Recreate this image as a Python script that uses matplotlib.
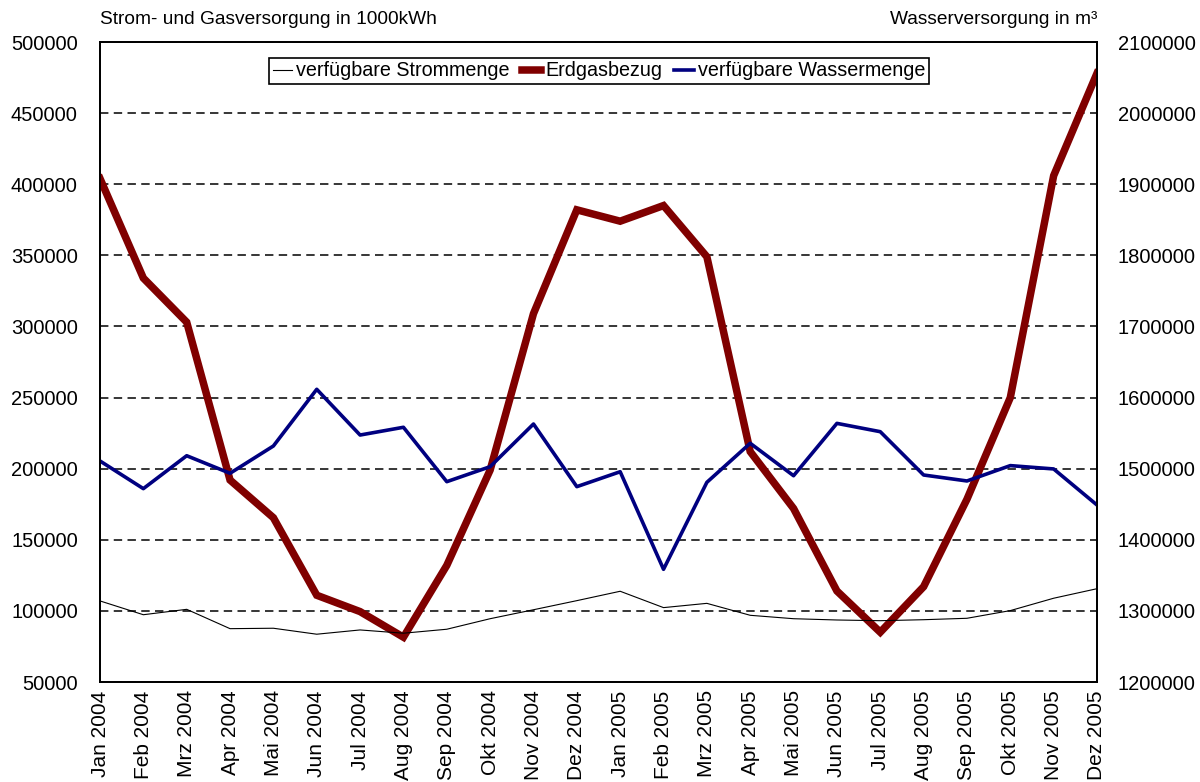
import numpy as np
import matplotlib
matplotlib.use('Agg')
import matplotlib.pyplot as plt
from matplotlib.ticker import FuncFormatter

plt.rcParams['font.family'] = ['Liberation Sans', 'DejaVu Sans']

# Monate (Kategorien)
monate = ['Jan 2004', 'Feb 2004', 'Mrz 2004', 'Apr 2004', 'Mai 2004', 'Jun 2004',
          'Jul 2004', 'Aug 2004', 'Sep 2004', 'Okt 2004', 'Nov 2004', 'Dez 2004',
          'Jan 2005', 'Feb 2005', 'Mrz 2005', 'Apr 2005', 'Mai 2005', 'Jun 2005',
          'Jul 2005', 'Aug 2005', 'Sep 2005', 'Okt 2005', 'Nov 2005', 'Dez 2005']

# verfügbare Strommenge in 1000kWh (linke Achse)
strom = [107000, 97300, 101100, 87500, 87800, 83600, 86600, 84300, 87100, 94500,
         100800, 107200, 113800, 102300, 105300, 96900, 94500, 93600, 93100, 93800,
         94800, 100200, 108900, 115600]

# Erdgasbezug in 1000kWh (linke Achse)
erdgas = [404000, 334000, 303000, 192000, 165500, 111000, 99500, 81500, 132000, 199000,
          309000, 382000, 374000, 385000, 349000, 212000, 172000, 114000, 85000, 117000,
          178500, 250000, 406000, 478000]

# verfügbare Wassermenge in m³ (rechte Achse)
wasser = [1510800, 1471900, 1518200, 1493500, 1531900, 1611600, 1547300, 1558200,
          1481700, 1502800, 1562800, 1474700, 1495700, 1358500, 1480800, 1535700,
          1490100, 1563700, 1552000, 1491100, 1482700, 1504300, 1499600, 1448900]

x = np.arange(len(monate))

fig = plt.figure(figsize=(12, 7.82), dpi=100)
ax = fig.add_axes([100 / 1200, 1 - 682 / 782, 997 / 1200, 640 / 782])
ax2 = ax.twinx()

l_gas, = ax.plot(x, erdgas, color='#800000', lw=5.4, solid_joinstyle='miter', zorder=3,
                 label='Erdgasbezug')
l_strom, = ax.plot(x, strom, color='black', lw=0.8, zorder=4, label='verfügbare Strommenge')
l_wasser, = ax2.plot(x, wasser, color='#000080', lw=2.6, label='verfügbare Wassermenge')

ax.set_xlim(0, len(monate) - 1)
ax.set_ylim(50000, 500000)
ax.set_yticks(np.arange(50000, 500001, 50000))
ax2.set_ylim(1200000, 2100000)
ax2.set_yticks(np.arange(1200000, 2100001, 100000))
plain = FuncFormatter(lambda v, p: '%d' % v)
ax.yaxis.set_major_formatter(plain)
ax2.yaxis.set_major_formatter(plain)

ax.yaxis.grid(True, linestyle=(0, (5.5, 3.5)), color='black', lw=1.1)
ax.set_axisbelow(True)

ax.set_xticks(x)
ax.set_xticklabels(monate, rotation=90, fontsize=15)
ax.tick_params(axis='x', length=0, pad=6)
ax.tick_params(axis='y', length=0, pad=16, labelsize=14.5)
ax2.tick_params(axis='y', length=0, pad=15, labelsize=14.5)

for a in (ax, ax2):
    for s in a.spines.values():
        s.set_linewidth(1.3)
        s.set_color('black')

fig.text(100 / 1200, 1 - 20 / 782, 'Strom- und Gasversorgung in 1000kWh',
         ha='left', va='center', fontsize=13.8)
fig.text(1097 / 1200, 1 - 20 / 782, 'Wasserversorgung in m³',
         ha='right', va='center', fontsize=13.8)

leg = ax2.legend([l_strom, l_gas, l_wasser],
                 ['verfügbare Strommenge', 'Erdgasbezug', 'verfügbare Wassermenge'],
                 ncol=3, loc='center', bbox_to_anchor=(599 / 1200, 1 - 71 / 782),
                 bbox_transform=fig.transFigure, fontsize=14.2, frameon=True,
                 fancybox=False, edgecolor='black', framealpha=1,
                 handlelength=1.0, handletextpad=0.2, columnspacing=0.6,
                 borderpad=0.2, borderaxespad=0)
leg.get_frame().set_linewidth(1.2)

fig.savefig('out.png', dpi=100)
